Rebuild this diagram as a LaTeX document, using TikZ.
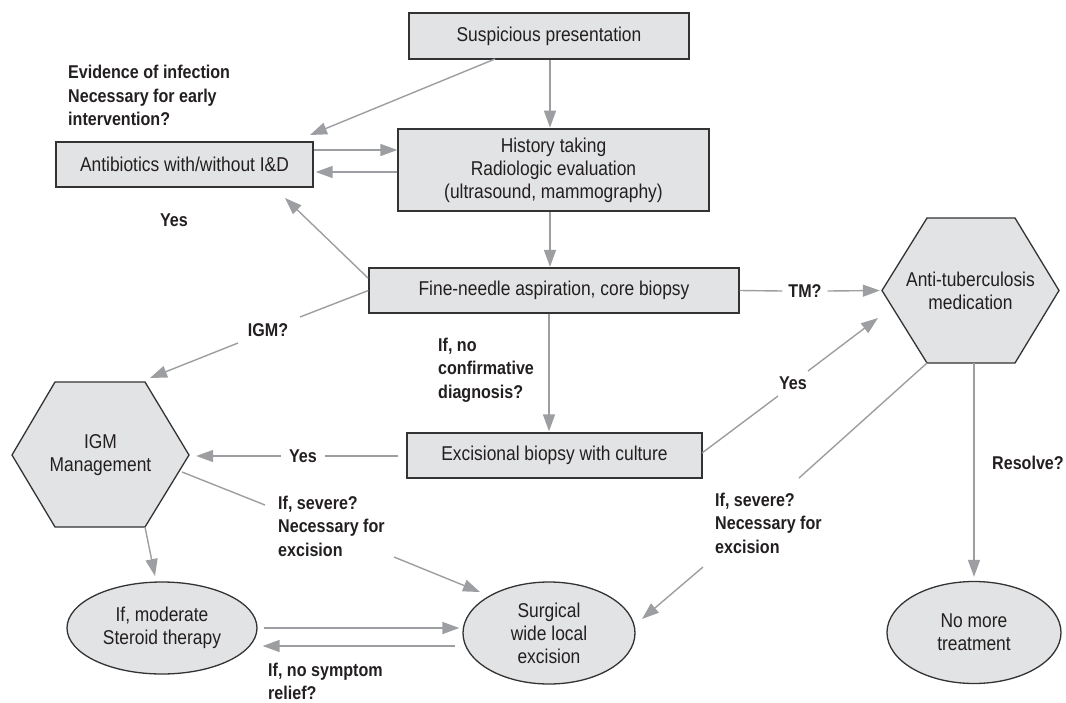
\documentclass[tikz,border=0pt]{standalone}
\usepackage{fontspec}
\setmainfont[FakeStretch=0.87]{Liberation Sans}
\usetikzlibrary{arrows.meta,calc,shapes.geometric}
\definecolor{boxfill}{HTML}{E2E3E4}
\definecolor{boxline}{HTML}{333333}
\definecolor{arrgray}{HTML}{9C9EA1}
\definecolor{txt}{HTML}{231F20}
\begin{document}
\begin{tikzpicture}[x=1pt,y=-1pt,
  box/.style={draw=boxline,fill=boxfill,line width=1.3pt,inner sep=0pt,
    font=\fontsize{20}{23}\selectfont,text=txt,align=center},
  ell/.style={box,ellipse},
  hexshape/.style={draw=boxline,fill=boxfill,line width=1.3pt,line join=miter},
  hextext/.style={inner sep=0pt,font=\fontsize{20}{23}\selectfont,text=txt,align=center},
  conn/.style={draw=arrgray,line width=1.4pt},
  arr/.style={conn,-{Triangle[length=17pt,width=12pt]}},
  lbl/.style={inner sep=0pt,font=\fontsize{18.5}{23.5}\selectfont\bfseries,text=txt,align=left},
]
\useasboundingbox (0,0) rectangle (1066,702);

% rectangles
\node[box,minimum width=280pt,minimum height=46pt] (susp) at (549,36) {Suspicious presentation};
\node[box,minimum width=311pt,minimum height=82pt] (hist) at (553.5,170) {History taking\\Radiologic evaluation\\(ultrasound, mammography)};
\node[box,minimum width=257pt,minimum height=45pt] (anti) at (184.5,164.5) {Antibiotics with/without I\&D};
\node[box,minimum width=370pt,minimum height=45pt] (fna) at (554,290.5) {Fine-needle aspiration, core biopsy};
\node[box,minimum width=295pt,minimum height=45pt] (exc) at (554.5,455.5) {Excisional biopsy with culture};

% hexagons
\draw[hexshape] (882,290.5) -- (927,218) -- (1015,218) -- (1059,290.5) -- (1015,363) -- (927,363) -- cycle;
\node[hextext,minimum width=177pt,minimum height=145pt] (atb) at (970.5,290.5) {Anti-tuberculosis\\medication};
\draw[hexshape] (12,455) -- (55,382) -- (145,382) -- (189,455) -- (145,527) -- (55,527) -- cycle;
\node[hextext,minimum width=177pt,minimum height=145pt] (igm) at (100.5,455) {IGM\\Management};

% ellipses
\node[ell,minimum width=190pt,minimum height=92pt] (ster) at (162,628) {If, moderate\\Steroid therapy};
\node[ell,minimum width=172pt,minimum height=102pt] (surg) at (549,633) {Surgical\\wide local\\excision};
\node[ell,minimum width=174pt,minimum height=102pt] (nomore) at (974,632.5) {No more\\treatment};

% labels
\node[lbl,anchor=west] (evid) at (68,95.5) {Evidence of infection\\Necessary for early\\intervention?};
\node[lbl] (yesA) at (174,220) {Yes};
\node[lbl] (igmq) at (268,330) {IGM?};
\node[lbl,anchor=west] (noconf) at (438,370) {If, no\\confirmative\\diagnosis?};
\node[lbl] (tmq) at (805,291) {TM?};
\node[lbl] (yesB) at (793,383) {Yes};
\node[lbl] (yesC) at (303,456) {Yes};
\node[lbl,anchor=west] (sevA) at (278,526) {If, severe?\\Necessary for\\excision};
\node[lbl,anchor=west] (sevB) at (715,523) {If, severe?\\Necessary for\\excision};
\node[lbl,anchor=west] (relief) at (268,681.5) {If, no symptom\\relief?};
\node[lbl,anchor=west] (resolve) at (992,463) {Resolve?};

% named free ends
\coordinate (suspA) at (495,59);
\coordinate (antiTip) at (310,135);
\coordinate (fnaA) at (368,278);
\coordinate (antiTip2) at (285,198);
\coordinate (igmA) at (300,317);
\coordinate (igmB) at (238,343);
\coordinate (igmTip) at (150,378);
\coordinate (excA) at (702,453);
\coordinate (yesBa) at (778,396);
\coordinate (yesBb) at (808,371);
\coordinate (atbTip) at (878,318);
\coordinate (igmC) at (182,472);
\coordinate (sevAa) at (265,505);
\coordinate (sevAb) at (394,557);
\coordinate (surgTip) at (480,592);
\coordinate (igmD) at (145,527);
\coordinate (sterTip) at (155,576);
\coordinate (atbB) at (927,363);
\coordinate (sevBa) at (799,478);
\coordinate (sevBb) at (703,567);
\coordinate (surgTip2) at (642,619);

% connectors
\draw[arr] ($(susp.south)+(1,0)$) -- ($(susp.south)+(1,68)$);
\draw[arr] (suspA) -- (antiTip);
\draw[arr] ($(anti.east)+(0,-14.5)$) -- ($(hist.west)+(0,-20)$);
\draw[arr] ($(hist.west)+(0,2)$) -- ($(anti.east)+(2,7.5)$);
\draw[arr] ($(hist.south)+(-3.5,0)$) -- ($(fna.north)+(-4,-0.5)$);
\draw[arr] (fnaA) -- (antiTip2);
\draw[conn] (fna.west) -- (igmA);
\draw[arr] (igmB) -- (igmTip);
\draw[arr] ($(fna.south)+(-5,0)$) -- ($(exc.north)+(-5.5,-1)$);
\draw[conn] (fna.east) -- ($(tmq.west)+(-6,0)$);
\draw[arr] ($(tmq.east)+(6,0)$) -- ($(atb.west)+(-2,0)$);
\draw[conn] (excA) -- (yesBa);
\draw[arr] (yesBb) -- (atbTip);
\draw[conn] ($(exc.west)+(-8,0.5)$) -- ($(yesC.east)+(8,0)$);
\draw[arr] ($(yesC.west)+(-8,0)$) -- ($(igm.east)+(7,1)$);
\draw[conn] (igmC) -- (sevAa);
\draw[arr] (sevAb) -- (surgTip);
\draw[arr] (igmD) -- (sterTip);
\draw[arr] ($(ster.east)+(6,0)$) -- ($(surg.west)+(-3,-5)$);
\draw[arr] ($(surg.west)+(-7,13)$) -- ($(ster.east)+(5,18)$);
\draw[conn] (atbB) -- (sevBa);
\draw[arr] (sevBb) -- (surgTip2);
\draw[arr] ($(atb.south)+(3.5,0)$) -- ($(nomore.north)+(0,-4)$);
\end{tikzpicture}
\end{document}
